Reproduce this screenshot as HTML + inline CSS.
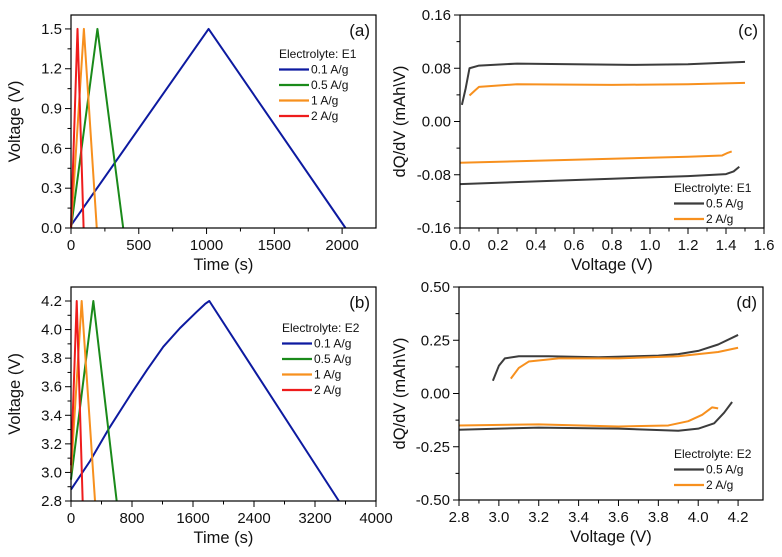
<!DOCTYPE html>
<html><head><meta charset="utf-8">
<style>
html,body{margin:0;padding:0;background:#fff;}
svg{display:block;font-family:"Liberation Sans",Arial,sans-serif;}
</style></head>
<body>
<svg id="fig" width="782" height="557" viewBox="0 0 782 557" xmlns="http://www.w3.org/2000/svg"></svg>
<script>
// ---- Panel (a) data: GCD, Electrolyte E1 ----
const aSeriesNames = ["0.1 A/g","0.5 A/g","1 A/g","2 A/g"];
const aT01 = [0, 1015, 2025];   const aV01 = [0.02, 1.5, 0];
const aT05 = [0, 195, 385];     const aV05 = [0, 1.5, 0];
const aT1  = [0, 95, 190];      const aV1  = [0, 1.5, 0];
const aT2  = [0, 48, 93];       const aV2  = [0, 1.5, 0];
const aXTicks = [0, 500, 1000, 1500, 2000];
const aYTicks = [0.0, 0.3, 0.6, 0.9, 1.2, 1.5];

// ---- Panel (b) data: GCD, Electrolyte E2 ----
const bT01 = [0, 250, 489, 800, 1000, 1211, 1429, 1640, 1760, 1814, 3513];
const bV01 = [2.88, 3.08, 3.3, 3.56, 3.72, 3.88, 4.01, 4.12, 4.18, 4.2, 2.8];
const bT05 = [0, 293, 599];     const bV05 = [2.95, 4.2, 2.8];
const bT1  = [0, 140, 315];     const bV1  = [3.0, 4.2, 2.8];
const bT2  = [0, 75, 153];      const bV2  = [3.05, 4.2, 2.8];
const bXTicks = [0, 800, 1600, 2400, 3200, 4000];
const bYTicks = [2.8, 3.0, 3.2, 3.4, 3.6, 3.8, 4.0, 4.2];

// ---- Panel (c) data: dQ/dV, E1 ----
const cBlkUpV = [0.01, 0.03, 0.05, 0.1, 0.3, 0.6, 0.9, 1.2, 1.5];
const cBlkUpQ = [0.025, 0.05, 0.08, 0.084, 0.087, 0.086, 0.085, 0.086, 0.0895];
const cBlkDnV = [0.0, 0.4, 0.8, 1.2, 1.4, 1.44, 1.47];
const cBlkDnQ = [-0.094, -0.09, -0.086, -0.082, -0.079, -0.075, -0.068];
const cOrgUpV = [0.05, 0.08, 0.1, 0.3, 0.8, 1.2, 1.5];
const cOrgUpQ = [0.039, 0.047, 0.052, 0.056, 0.055, 0.056, 0.058];
const cOrgDnV = [0.0, 0.4, 0.8, 1.2, 1.38, 1.41, 1.43];
const cOrgDnQ = [-0.062, -0.059, -0.056, -0.053, -0.051, -0.047, -0.045];
const cXTicks = [0.0, 0.2, 0.4, 0.6, 0.8, 1.0, 1.2, 1.4, 1.6];
const cYTicks = [-0.16, -0.08, 0.00, 0.08, 0.16];

// ---- Panel (d) data: dQ/dV, E2 ----
const dBlkUpV = [2.97, 3.0, 3.03, 3.1, 3.25, 3.5, 3.8, 3.9, 4.0, 4.1, 4.2];
const dBlkUpQ = [0.06, 0.13, 0.165, 0.175, 0.175, 0.17, 0.178, 0.185, 0.2, 0.23, 0.275];
const dOrgUpV = [3.06, 3.1, 3.15, 3.3, 3.6, 3.9, 4.1, 4.2];
const dOrgUpQ = [0.07, 0.12, 0.15, 0.165, 0.165, 0.175, 0.195, 0.215];
const dBlkDnV = [2.8, 3.2, 3.6, 3.9, 4.0, 4.08, 4.13, 4.17];
const dBlkDnQ = [-0.17, -0.16, -0.165, -0.175, -0.165, -0.14, -0.09, -0.04];
const dOrgDnV = [2.8, 3.2, 3.6, 3.85, 3.95, 4.02, 4.07, 4.1];
const dOrgDnQ = [-0.15, -0.145, -0.155, -0.15, -0.13, -0.1, -0.065, -0.07];
const dXTicks = [2.8, 3.0, 3.2, 3.4, 3.6, 3.8, 4.0, 4.2];
const dYTicks = [-0.50, -0.25, 0.00, 0.25, 0.50];

const NS = "http://www.w3.org/2000/svg";
const svg = document.getElementById("fig");
function mk(tag, attrs, parent){
  const e = document.createElementNS(NS, tag);
  for (const k in attrs) e.setAttribute(k, attrs[k]);
  (parent||svg).appendChild(e);
  return e;
}
function txt(s, attrs, parent){ const t = mk("text", attrs, parent); t.textContent = s; return t; }

function panel(cfg){
  const g = mk("g", {});
  
  
  const X = v => cfg.x0 + (v - cfg.xmin) / (cfg.xmax - cfg.xmin) * (cfg.x1 - cfg.x0);
  const Y = v => cfg.y1 - (v - cfg.ymin) / (cfg.ymax - cfg.ymin) * (cfg.y1 - cfg.y0);
  const tg = mk("g", {stroke:"#000","stroke-width":1}, g);
  
  
  cfg.xTicks.forEach((v,i) => {
    const x = X(v);
    mk("line", {x1:x, x2:x, y1:cfg.y1, y2:cfg.y1+6}, tg);
    if (i < cfg.xTicks.length-1){
      const xm = X((v + cfg.xTicks[i+1])/2);
      mk("line", {x1:xm, x2:xm, y1:cfg.y1, y2:cfg.y1+3.5}, tg);
    }
    const l = txt(cfg.xFmt(v), {x:x, y:cfg.y1+22, "font-size":15, "text-anchor":"middle", fill:"#111"}, g);
    
    
  });
  cfg.yTicks.forEach((v,i) => {
    const y = Y(v);
    mk("line", {x1:cfg.x0-6, x2:cfg.x0, y1:y, y2:y}, tg);
    if (i < cfg.yTicks.length-1){
      const ym = Y((v + cfg.yTicks[i+1])/2);
      mk("line", {x1:cfg.x0-3.5, x2:cfg.x0, y1:ym, y2:ym}, tg);
    }
    const l = txt(cfg.yFmt(v), {x:cfg.x0-9, y:y+5, "font-size":15, "text-anchor":"end", fill:"#111"}, g);
    
    
  });
  cfg.series.forEach(s => {
    const d = s.xs.map((v,i) => (i ? "L" : "M") + X(v).toFixed(2) + "," + Y(s.ys[i]).toFixed(2)).join("");
    const p = mk("path", {d:d, fill:"none", stroke:s.color, "stroke-width":2, "stroke-linejoin":"round"}, g);
    
    
  });
  const fr = mk("rect", {x:cfg.x0, y:cfg.y0, width:cfg.x1-cfg.x0, height:cfg.y1-cfg.y0, fill:"none", stroke:"#000", "stroke-width":1.2}, g);
  
  
  const xt = txt(cfg.xTitle, {x:(cfg.x0+cfg.x1)/2, y:cfg.y1+42, "font-size":16.5, "text-anchor":"middle", fill:"#111"}, g);
  
  
  const yc = (cfg.y0+cfg.y1)/2;
  const yt = txt(cfg.yTitle, {x:cfg.yTitleX, y:yc, "font-size":16.5, "text-anchor":"middle", fill:"#111", transform:`rotate(-90 ${cfg.yTitleX} ${yc})`}, g);
  
  
  const pl = txt(cfg.label, {x:cfg.x1-6, y:cfg.y0+21, "font-size":17, "text-anchor":"end", fill:"#111"}, g);
  
  
  const lg = mk("g", {}, g);
  
  
  const lt = txt(cfg.legTitle, {x:cfg.legX, y:cfg.legY, "font-size":12, fill:"#111"}, lg);
  
  
  cfg.legItems.forEach((it,i) => {
    const y = cfg.legY + 15.5*(i+1);
    const ln = mk("line", {x1:cfg.legX, x2:cfg.legX+30, y1:y-4, y2:y-4, stroke:it.color, "stroke-width":2.2}, lg);
    
    
    const t = txt(it.label, {x:cfg.legX+32, y:y, "font-size":12, fill:"#111"}, lg);
    
    
  });
}

const BLUE="#0d1aa0", GREEN="#1a8a1a", ORANGE="#f7901e", RED="#ee1c1c", GREY="#3c3c3c";

panel({name:"panel-a", x0:71, x1:376, y0:15, y1:228, xmin:0, xmax:2250, ymin:0, ymax:1.605,
  xTicks:aXTicks, yTicks:aYTicks, xFmt:v=>String(v), yFmt:v=>v.toFixed(1),
  xTitle:"Time (s)", yTitle:"Voltage (V)", yTitleX:20, label:"(a)",
  legTitle:"Electrolyte: E1", legX:279, legY:58,
  legItems:[{label:aSeriesNames[0],color:BLUE},{label:aSeriesNames[1],color:GREEN},{label:aSeriesNames[2],color:ORANGE},{label:aSeriesNames[3],color:RED}],
  series:[{name:"a-0.1Ag",xs:aT01,ys:aV01,color:BLUE},{name:"a-0.5Ag",xs:aT05,ys:aV05,color:GREEN},
          {name:"a-1Ag",xs:aT1,ys:aV1,color:ORANGE},{name:"a-2Ag",xs:aT2,ys:aV2,color:RED}]});

panel({name:"panel-b", x0:71, x1:376, y0:287, y1:501, xmin:0, xmax:4000, ymin:2.8, ymax:4.298,
  xTicks:bXTicks, yTicks:bYTicks, xFmt:v=>String(v), yFmt:v=>v.toFixed(1),
  xTitle:"Time (s)", yTitle:"Voltage (V)", yTitleX:20, label:"(b)",
  legTitle:"Electrolyte: E2", legX:282, legY:332,
  legItems:[{label:aSeriesNames[0],color:BLUE},{label:aSeriesNames[1],color:GREEN},{label:aSeriesNames[2],color:ORANGE},{label:aSeriesNames[3],color:RED}],
  series:[{name:"b-0.1Ag",xs:bT01,ys:bV01,color:BLUE},{name:"b-0.5Ag",xs:bT05,ys:bV05,color:GREEN},
          {name:"b-1Ag",xs:bT1,ys:bV1,color:ORANGE},{name:"b-2Ag",xs:bT2,ys:bV2,color:RED}]});

panel({name:"panel-c", x0:460, x1:764, y0:15, y1:228, xmin:0, xmax:1.6, ymin:-0.16, ymax:0.16,
  xTicks:cXTicks, yTicks:cYTicks, xFmt:v=>v.toFixed(1), yFmt:v=>v.toFixed(2),
  xTitle:"Voltage (V)", yTitle:"dQ/dV (mAh\\V)", yTitleX:405, label:"(c)",
  legTitle:"Electrolyte: E1", legX:674, legY:192,
  legItems:[{label:"0.5 A/g",color:GREY},{label:"2 A/g",color:ORANGE}],
  series:[{name:"c-0.5Ag-charge",xs:cBlkUpV,ys:cBlkUpQ,color:GREY},{name:"c-0.5Ag-discharge",xs:cBlkDnV,ys:cBlkDnQ,color:GREY},
          {name:"c-2Ag-charge",xs:cOrgUpV,ys:cOrgUpQ,color:ORANGE},{name:"c-2Ag-discharge",xs:cOrgDnV,ys:cOrgDnQ,color:ORANGE}]});

panel({name:"panel-d", x0:459, x1:763, y0:287, y1:500, xmin:2.8, xmax:4.325, ymin:-0.5, ymax:0.5,
  xTicks:dXTicks, yTicks:dYTicks, xFmt:v=>v.toFixed(1), yFmt:v=>v.toFixed(2),
  xTitle:"Voltage (V)", yTitle:"dQ/dV (mAh\\V)", yTitleX:405, label:"(d)",
  legTitle:"Electrolyte: E2", legX:674, legY:458,
  legItems:[{label:"0.5 A/g",color:GREY},{label:"2 A/g",color:ORANGE}],
  series:[{name:"d-0.5Ag-charge",xs:dBlkUpV,ys:dBlkUpQ,color:GREY},{name:"d-0.5Ag-discharge",xs:dBlkDnV,ys:dBlkDnQ,color:GREY},
          {name:"d-2Ag-charge",xs:dOrgUpV,ys:dOrgUpQ,color:ORANGE},{name:"d-2Ag-discharge",xs:dOrgDnV,ys:dOrgDnQ,color:ORANGE}]});
</script>
</body></html>
